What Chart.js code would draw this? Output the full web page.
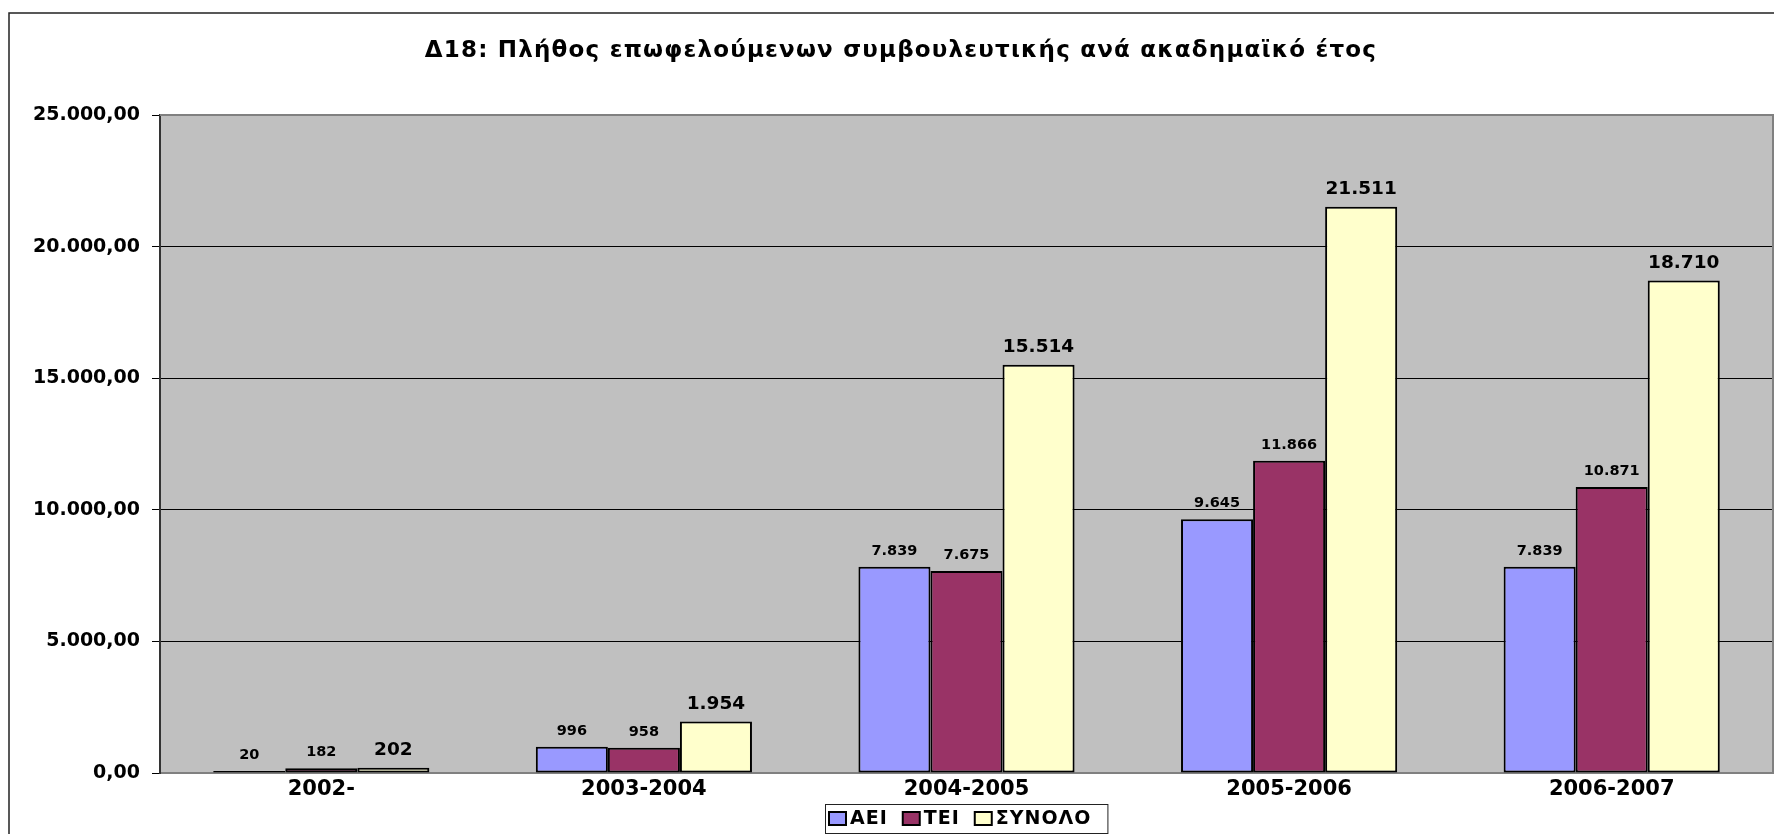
<!DOCTYPE html>
<html>
<head>
<meta charset="utf-8">
<script src="https://cdn.jsdelivr.net/npm/chart.js@4.4.0/dist/chart.umd.min.js"></script>
<style>
    html, body { margin: 0; padding: 0; background: #fff; overflow: hidden; }
    #wrap { width: 1774px; height: 834px; position: relative; }
</style>
</head>
<body>
<div id="wrap"><canvas id="chart" width="1774" height="834"></canvas></div>
<script>
const chartTitle = 'Δ18: Πλήθος επωφελούμενων συμβουλευτικής ανά ακαδημαϊκό έτος';
const years = ['2002-', '2003-2004', '2004-2005', '2005-2006', '2006-2007'];
const seriesNames = ['ΑΕΙ', 'ΤΕΙ', 'ΣΥΝΟΛΟ'];
const aei = [20, 996, 7839, 9645, 7839];
const tei = [182, 958, 7675, 11866, 10871];
const total = [202, 1954, 15514, 21511, 18710];
const yTicks = [0, 5000, 10000, 15000, 20000, 25000];
const colors = ['#9999FF', '#993366', '#FFFFCC'];

const FONT = '"DejaVu Sans", sans-serif';

// αριθμοί με ελληνική μορφή: 25.000,00
function grNumber(v, decimals) {
    const parts = v.toFixed(decimals).split('.');
    const intPart = parts[0].replace(/\B(?=(\d{3})+(?!\d))/g, '.');
    return parts.length > 1 ? intPart + ',' + parts[1] : intPart;
}

// φόντο, πλαίσιο και τίτλος
const framePlugin = {
    id: 'frame',
    beforeDraw(chart) {
        const {ctx, chartArea: a} = chart;
        ctx.save();
        ctx.fillStyle = '#fff';
        ctx.fillRect(0, 0, chart.width, chart.height);
        ctx.strokeStyle = '#222';
        ctx.lineWidth = 1.5;
        ctx.strokeRect(9, 13, chart.width + 50, chart.height + 50);
        ctx.fillStyle = '#C0C0C0';
        ctx.fillRect(a.left, a.top, a.right - a.left, a.bottom - a.top);
        ctx.fillStyle = '#000';
        ctx.font = 'bold 23px ' + FONT;
        if ('letterSpacing' in ctx) ctx.letterSpacing = '1.2px';
        ctx.textAlign = 'center';
        ctx.textBaseline = 'middle';
        ctx.fillText(chartTitle, 901, 51);
        ctx.restore();
    },
    beforeDatasetsDraw(chart) {
        const {ctx, chartArea: a} = chart;
        ctx.save();
        ctx.strokeStyle = '#808080';
        ctx.lineWidth = 2;
        ctx.beginPath();
        ctx.moveTo(a.left, a.top);
        ctx.lineTo(a.right, a.top);
        ctx.lineTo(a.right, a.bottom);
        ctx.stroke();
        ctx.restore();
    }
};

// ετικέτες τιμών πάνω από τις μπάρες
const valueLabels = {
    id: 'valueLabels',
    afterDatasetsDraw(chart) {
        const ctx = chart.ctx;
        ctx.save();
        ctx.fillStyle = '#000';
        ctx.textAlign = 'center';
        ctx.textBaseline = 'alphabetic';
        chart.data.datasets.forEach((ds, di) => {
            const meta = chart.getDatasetMeta(di);
            const big = di === 2;
            ctx.font = 'bold ' + (big ? 18.5 : 14.5) + 'px ' + FONT;
            meta.data.forEach((bar, i) => {
                ctx.fillText(grNumber(ds.data[i], 0), bar.x, bar.y - (big ? 13 : 12));
            });
        });
        ctx.restore();
    }
};

// υπόμνημα σε πλαίσιο, κεντραρισμένο κάτω από την περιοχή σχεδίασης
const boxLegend = {
    id: 'boxLegend',
    afterDraw(chart) {
        const {ctx, chartArea: a} = chart;
        ctx.save();
        ctx.font = 'bold 19px ' + FONT;
        if ('letterSpacing' in ctx) ctx.letterSpacing = '1px';
        const mw = 17, mh = 13, gap = 4, itemGap = 15, padL = 4, padR = 16;
        const widths = seriesNames.map(n => ctx.measureText(n).width);
        let w = padL + padR;
        widths.forEach((tw, i) => { w += mw + gap + tw + (i < widths.length - 1 ? itemGap : 0); });
        const top = 804, h = 29;
        const left = Math.round((a.left + a.right) / 2 - w / 2);
        ctx.fillStyle = '#fff';
        ctx.fillRect(left, top, w, h);
        ctx.strokeStyle = '#222';
        ctx.lineWidth = 1;
        ctx.strokeRect(left + 0.5, top + 0.5, w, h);
        const cy = top + h / 2;
        let x = left + padL;
        ctx.textBaseline = 'middle';
        ctx.textAlign = 'left';
        seriesNames.forEach((n, i) => {
            ctx.fillStyle = colors[i];
            ctx.fillRect(x, cy - mh / 2, mw, mh);
            ctx.strokeStyle = '#000';
            ctx.lineWidth = 2;
            ctx.strokeRect(x, cy - mh / 2, mw, mh);
            x += mw + gap;
            ctx.fillStyle = '#000';
            ctx.fillText(n, x, cy + 1);
            x += widths[i] + itemGap;
        });
        ctx.restore();
    }
};

const ctx = document.getElementById('chart').getContext('2d');
new Chart(ctx, {
    type: 'bar',
    data: {
        labels: years,
        datasets: [aei, tei, total].map((values, i) => ({
            label: seriesNames[i],
            data: values,
            backgroundColor: colors[i],
            borderColor: '#000',
            borderWidth: 2,
            borderSkipped: false,
            minBarLength: 2,
            categoryPercentage: 0.67,
            barPercentage: 1.0
        }))
    },
    options: {
        responsive: false,
        animation: false,
        layout: { padding: { top: 115, right: 1, bottom: 0, left: 0 } },
        plugins: {
            legend: { display: false },
            title: { display: false },
            tooltip: { enabled: false }
        },
        scales: {
            x: {
                grid: { display: false, drawTicks: false },
                border: { display: true, color: '#808080', width: 2 },
                ticks: {
                    color: '#000',
                    padding: 4,
                    font: { family: FONT, size: 21, weight: 'bold' }
                },
                afterFit(scale) { scale.height = 61; }
            },
            y: {
                min: 0,
                max: 25000,
                afterBuildTicks(scale) { scale.ticks = yTicks.map(v => ({ value: v })); },
                grid: {
                    color: c => (c.tick && c.tick.value === 0) ? 'rgba(0,0,0,0)'
                        : (c.tick && c.tick.value === 25000) ? '#808080' : '#000',
                    tickColor: '#000',
                    lineWidth: 1,
                    tickLength: 8
                },
                border: { display: true, color: '#333', width: 2 },
                ticks: {
                    color: '#000',
                    padding: 12,
                    font: { family: FONT, size: 19, weight: 'bold' },
                    callback: v => grNumber(v, 2)
                },
                afterFit(scale) { scale.width = 160; }
            }
        }
    },
    plugins: [framePlugin, valueLabels, boxLegend]
});
</script>
</body>
</html>
